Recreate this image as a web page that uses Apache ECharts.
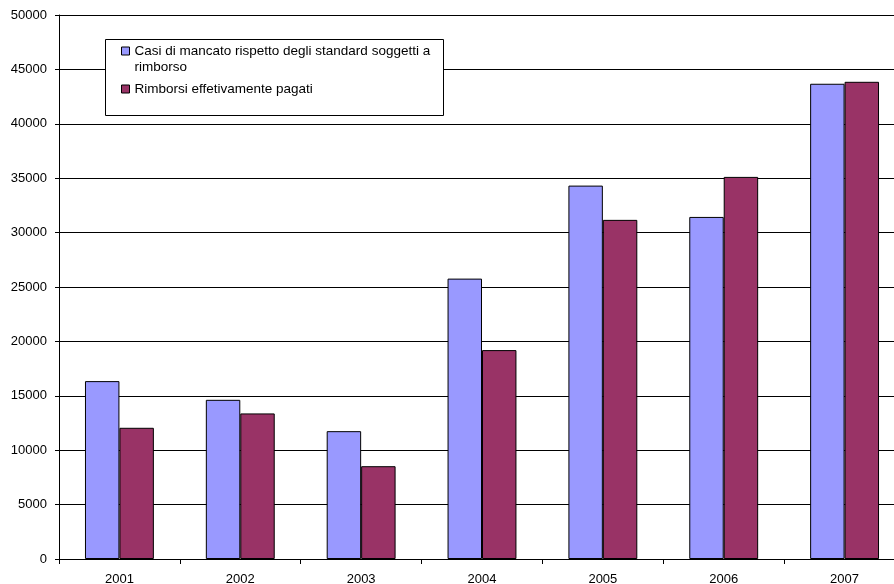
<!DOCTYPE html>
<html>
<head>
<meta charset="utf-8">
<script src="https://cdn.jsdelivr.net/npm/echarts@6/dist/echarts.min.js"></script>
<style>
  html, body { margin: 0; padding: 0; background: #fff; }
  #chart { width: 894px; height: 584px; }
</style>
</head>
<body>
<div id="chart"></div>
<script>
// Years on the category axis
const years = ['2001', '2002', '2003', '2004', '2005', '2006', '2007'];

// Cases where the standards were not met and a refund was due
const casiMancatoRispetto = [16350, 14630, 11750, 25770, 34320, 31440, 43680];

// Refunds actually paid
const rimborsiPagati = [12060, 13380, 8530, 19200, 31170, 35120, 43860];

// Value axis range and step
const yMin = 0;
const yMax = 50000;
const yStep = 5000;

const nameCasi = 'Casi di mancato rispetto degli standard soggetti a rimborso';
const namePagati = 'Rimborsi effetivamente pagati';

const FONT = '"Liberation Sans", Arial, sans-serif';

const chart = echarts.init(document.getElementById('chart'), null, { renderer: 'canvas' });

chart.setOption({
  animation: false,
  backgroundColor: '#ffffff',
  // the plot area runs slightly past the right edge of the canvas
  grid: {
    left: 59, width: 846, top: 15, bottom: 25,
    containLabel: false,
    outerBoundsMode: 'none'
  },
  xAxis: {
    type: 'category',
    data: years,
    axisLine: { lineStyle: { color: '#000', width: 1 } },
    axisTick: { show: true, length: 5, lineStyle: { color: '#000' } },
    axisLabel: { color: '#000', fontFamily: FONT, fontSize: 13, margin: 14 },
    splitLine: { show: false }
  },
  yAxis: {
    type: 'value',
    min: yMin,
    max: yMax,
    interval: yStep,
    axisLine: { show: true, lineStyle: { color: '#000', width: 1 } },
    axisTick: { show: true, length: 4, lineStyle: { color: '#000' } },
    axisLabel: {
      color: '#000', fontFamily: FONT, fontSize: 13, margin: 12,
      formatter: function (v) { return String(v); }
    },
    splitLine: { show: true, lineStyle: { color: '#000', width: 1 } }
  },
  graphic: [{
    type: 'rect',
    z: 3,
    shape: { x: 105.5, y: 39.5, width: 338, height: 76 },
    style: { fill: '#fff', stroke: '#000', lineWidth: 1 }
  }],
  legend: [{
    data: [nameCasi],
    left: 121,
    top: 27,
    padding: 0,
    z: 10,
    orient: 'vertical',
    selectedMode: false,
    icon: 'rect',
    itemWidth: 8,
    itemHeight: 8,
    itemStyle: { borderColor: '#000', borderWidth: 1 },
    // leading blank line keeps the first text line level with the swatch
    formatter: function () {
      return ' \nCasi di mancato rispetto degli standard soggetti a\nrimborso';
    },
    textStyle: { color: '#000', fontFamily: FONT, fontSize: 13.5, lineHeight: 16 }
  }, {
    data: [namePagati],
    left: 121,
    top: 81,
    padding: 0,
    z: 10,
    orient: 'vertical',
    selectedMode: false,
    icon: 'rect',
    itemWidth: 8,
    itemHeight: 8,
    itemStyle: { borderColor: '#000', borderWidth: 1 },
    textStyle: { color: '#000', fontFamily: FONT, fontSize: 13.5, lineHeight: 16 }
  }],
  series: [{
    name: nameCasi,
    type: 'bar',
    data: casiMancatoRispetto,
    barGap: '0%',
    barCategoryGap: '43%',
    itemStyle: { color: '#9999FF', borderColor: '#000', borderWidth: 1 }
  }, {
    name: namePagati,
    type: 'bar',
    data: rimborsiPagati,
    barGap: '0%',
    barCategoryGap: '43%',
    itemStyle: { color: '#993366', borderColor: '#000', borderWidth: 1 }
  }]
});
</script>
</body>
</html>
